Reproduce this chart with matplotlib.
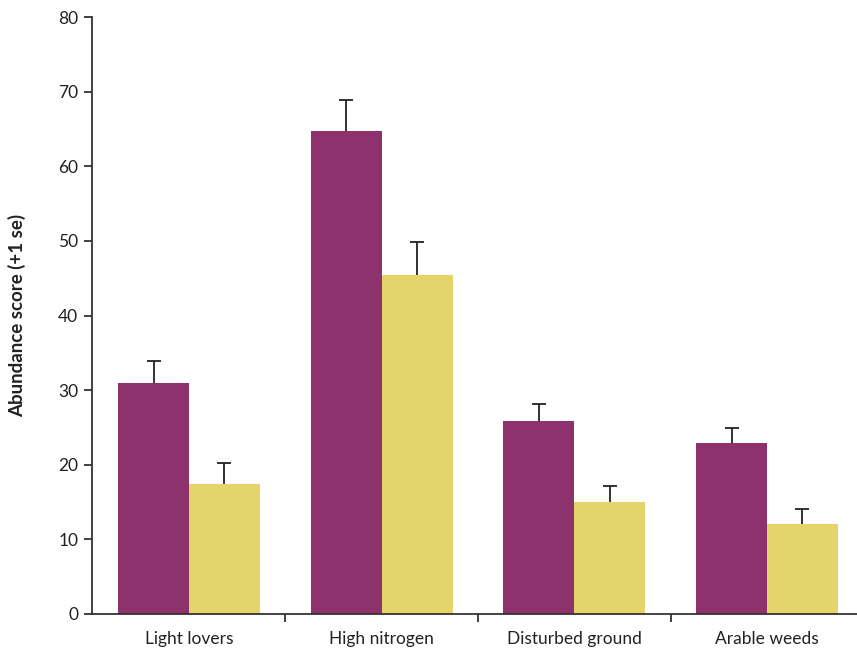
import numpy as np
import matplotlib.pyplot as plt

# abundance scores per plant group, two treatments
groups = ["Light lovers", "High nitrogen", "Disturbed ground", "Arable weeds"]
purple_vals = [31.0, 64.7, 25.9, 22.9]
purple_se = [2.9, 4.2, 2.2, 2.0]
yellow_vals = [17.4, 45.4, 15.0, 12.1]
yellow_se = [2.9, 4.4, 2.2, 2.0]

plt.rcParams["font.family"] = ["Lato", "DejaVu Sans"]

fig = plt.figure(figsize=(8.57, 6.5), dpi=100)
ax = fig.add_axes([0.1074, 0.0554, 0.8926, 0.9184])

x = np.arange(len(groups))
w = 0.368


def bars_with_se(xpos, vals, se, color):
    ax.bar(xpos, vals, w, color=color, zorder=2)
    _, caps, _ = ax.errorbar(xpos, vals, yerr=[np.zeros(len(vals)), se],
                             fmt="none", ecolor="#222222", elinewidth=1.3,
                             capsize=4.7, capthick=1.3, zorder=3)
    # keep only the upper caps (+1 se)
    for cap in caps:
        if np.allclose(cap.get_ydata(), vals):
            cap.remove()


bars_with_se(x - w / 2, purple_vals, purple_se, "#8E326D")
bars_with_se(x + w / 2, yellow_vals, yellow_se, "#E5D46A")

ax.set_xlim(-0.503, 3.467)
ax.set_ylim(0, 80)
ax.set_yticks(range(0, 81, 10))

# category labels centred, separator ticks between groups
ax.set_xticks(x)
ax.set_xticklabels(groups, fontsize=12.5, color="#222222")
ax.tick_params(axis="x", length=0, pad=12)
ax.set_xticks([0.5, 1.5, 2.5], minor=True)
ax.tick_params(axis="x", which="minor", direction="out", length=6,
               width=1.3, color="#333333")

ax.tick_params(axis="y", direction="out", length=6, width=1.3,
               color="#333333", labelsize=12.5, labelcolor="#222222", pad=4)

for side in ["top", "right"]:
    ax.spines[side].set_visible(False)
for side in ["left", "bottom"]:
    ax.spines[side].set_linewidth(1.3)
    ax.spines[side].set_color("#333333")

ax.set_ylabel("Abundance score (+1 se)", fontsize=13.5, fontweight="bold",
              color="#222222")
ax.yaxis.set_label_coords(-0.086, 0.5)

fig.savefig("out.png", dpi=100)
